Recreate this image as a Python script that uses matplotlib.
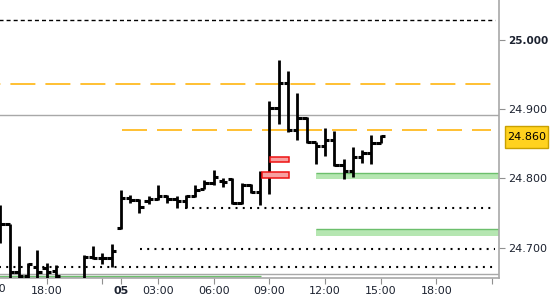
import numpy as np
import matplotlib.pyplot as plt
from matplotlib.patches import Rectangle

plt.rcParams['lines.scale_dashes'] = False
plt.rcParams['font.family'] = ['DejaVu Sans']

# 30-minute bars, index 0 = 18:00 on the 4th, index 8 = 01:00 on the 5th
bar_idx = np.arange(-5, 37)
opens = [24.718, 24.734, 24.665, 24.659, 24.672, 24.671, 24.666, 24.650, 24.640, 24.645,
         24.687, 24.685, 24.685, 24.729, 24.772, 24.769, 24.767, 24.770, 24.774, 24.771,
         24.767, 24.774, 24.785, 24.793, 24.796, 24.799, 24.764, 24.790, 24.781, 24.807,
         24.901, 24.938, 24.870, 24.887, 24.852, 24.846, 24.855, 24.819, 24.811, 24.831,
         24.836, 24.851]
highs = [24.762, 24.735, 24.702, 24.678, 24.697, 24.678, 24.675, 24.654, 24.648, 24.690,
         24.703, 24.692, 24.706, 24.783, 24.776, 24.770, 24.774, 24.790, 24.776, 24.775,
         24.776, 24.790, 24.797, 24.812, 24.801, 24.800, 24.793, 24.792, 24.810, 24.911,
         24.971, 24.954, 24.923, 24.888, 24.852, 24.872, 24.868, 24.828, 24.845, 24.841,
         24.863, 24.863]
lows = [24.707, 24.650, 24.656, 24.655, 24.655, 24.655, 24.650, 24.630, 24.625, 24.640,
        24.684, 24.677, 24.672, 24.727, 24.765, 24.750, 24.763, 24.769, 24.764, 24.758,
        24.758, 24.773, 24.784, 24.790, 24.788, 24.763, 24.763, 24.779, 24.762, 24.777,
        24.878, 24.867, 24.856, 24.851, 24.821, 24.832, 24.818, 24.799, 24.802, 24.822,
        24.821, 24.851]
closes = [24.734, 24.665, 24.659, 24.677, 24.665, 24.665, 24.659, 24.640, 24.645, 24.687,
          24.685, 24.685, 24.695, 24.772, 24.769, 24.759, 24.770, 24.774, 24.771, 24.767,
          24.774, 24.783, 24.793, 24.802, 24.795, 24.764, 24.790, 24.781, 24.807, 24.901,
          24.938, 24.870, 24.887, 24.852, 24.846, 24.855, 24.819, 24.811, 24.831, 24.836,
          24.851, 24.861]

last_price = 24.860

# x axis
tick_pos = [0, 6, 8, 12, 18, 24, 30, 36, 42, 48]
tick_lab = ['18:00', '', '05', '03:00', '06:00', '09:00', '12:00', '15:00', '18:00', '']
cut_label_pos = -6
cut_label = '15:00'

# y axis
ytick_vals = [24.7, 24.8, 24.9, 25.0]

# horizontal levels and where they start
dotted_levels = [24.758, 24.698, 24.673]
dotted_starts = [14.9, 10.05, -5.1]
dashed_black_level = 25.028
orange_levels = [24.9356, 24.870]
orange_starts = [-5.1, 8.1]
gray_levels = [24.891, 24.662]

# zones
green_bottoms = [24.7996, 24.7174, 24.6560]
green_tops = [24.8073, 24.7267, 24.6600]
green_starts = [29.0, 29.0, -5.1]
green_ends = [49.0, 49.0, 23.06]
red_bottoms = [24.8232, 24.8001]
red_tops = [24.8313, 24.8088]
red_starts = [24.06, 23.17]
red_ends = [26.14, 26.14]

fig = plt.figure(figsize=(5.5, 3), dpi=100)
ax = fig.add_axes([0, 22 / 300, 499 / 550, 278 / 300])
xmin, xmax = -5.03, 48.74
ymin, ymax = 24.6565, 25.057
ax.set_xlim(xmin, xmax)
ax.set_ylim(ymin, ymax)

line_end = 48.3
for lv, st in zip(dotted_levels, dotted_starts):
    ax.hlines(lv, st, line_end, colors='black', lw=1.5, linestyles=(0, (1.4, 3.8)), zorder=2)
ax.hlines(dashed_black_level, xmin - 1, line_end, colors='black', lw=1.0,
          linestyles=(0, (2.9, 2.2)), zorder=2)
ax.hlines(orange_levels[0], orange_starts[0], 47.9, colors='#FFBB22', lw=1.3,
          linestyles=(17.0, (18.0, 7.2)), zorder=2)
ax.hlines(orange_levels[1], orange_starts[1], 47.9, colors='#FFBB22', lw=1.3,
          linestyles=(0, (18.0, 7.2)), zorder=2)
for lv in gray_levels:
    ax.axhline(lv, color='#A8A8A8', lw=1.0, zorder=2)

for b, t, s, e in zip(green_bottoms, green_tops, green_starts, green_ends):
    ax.add_patch(Rectangle((s, b), e - s, t - b, facecolor='#B5E6B1', edgecolor='none', zorder=1))
    ax.hlines(t, s, e, colors='#6CBF6C', lw=1.0, zorder=1)
for b, t, s, e in zip(red_bottoms, red_tops, red_starts, red_ends):
    ax.add_patch(Rectangle((s, b), e - s, t - b, facecolor='#F7A0A0', edgecolor='#EE1111',
                           lw=1.1, zorder=4))

# OHLC bars
half = 0.47
ax.vlines(bar_idx, lows, highs, colors='black', lw=2.0, zorder=3)
ax.hlines(opens, bar_idx - half, bar_idx, colors='black', lw=2.2, zorder=3)
ax.hlines(closes, bar_idx, bar_idx + half, colors='black', lw=2.2, zorder=3)

for s in ['top', 'left']:
    ax.spines[s].set_visible(False)
for s in ['right', 'bottom']:
    ax.spines[s].set_color('#A8A8A8')
    ax.spines[s].set_linewidth(1.2)

ax.yaxis.tick_right()
ax.set_yticks(ytick_vals)
ax.set_yticklabels(['%.3f' % v for v in ytick_vals])
ax.set_xticks(tick_pos)
ax.set_xticklabels(tick_lab)
ax.tick_params(axis='both', length=4, color='#909090', labelsize=8, labelcolor='#1c2230')
ax.tick_params(axis='y', pad=2.5)
ax.tick_params(axis='x', pad=2)
for lab in ax.get_xticklabels():
    if lab.get_text() == '05':
        lab.set_fontweight('bold')
for lab in ax.get_yticklabels():
    if lab.get_text() == '25.000':
        lab.set_fontweight('bold')
        lab.set_fontsize(7.5)

ax.text(cut_label_pos, -0.022, cut_label, transform=ax.get_xaxis_transform(),
        ha='center', va='top', fontsize=8, color='#1c2230', clip_on=False)

# last price tag on the right axis (box is a bit taller than the text)
tag_y = ax.transData.transform((0, last_price))[1] / fig.bbox.height
box_h = 22 / 300
fig.patches.append(Rectangle((505 / 550, tag_y - box_h / 2), 43 / 550, box_h,
                             transform=fig.transFigure, facecolor='#FFD21F',
                             edgecolor='#C9A000', lw=1.0, zorder=5))
fig.text(526.5 / 550, tag_y, '%.3f' % last_price, ha='center', va='center',
         fontsize=8, color='black', zorder=6)

fig.savefig('out.png', dpi=100)
